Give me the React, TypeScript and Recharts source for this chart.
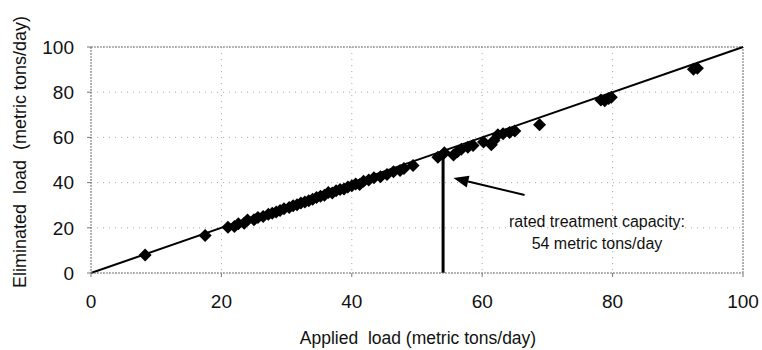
import {
  ReferenceLine,
  CartesianGrid,
  Scatter,
  ScatterChart,
  XAxis,
  YAxis,
} from 'recharts';

// applied vs eliminated load, metric tons/day
const applied = [
  8.3, 17.5, 21.0, 22.0, 22.6, 23.5, 24.0, 25.0, 25.6, 26.4, 27.2, 27.8, 28.4, 29.0,
  29.6, 30.4, 31.0, 31.6, 32.2, 32.8, 33.4, 34.0, 34.6, 35.2, 35.8, 36.4, 37.0, 37.6,
  38.2, 38.8, 39.4, 40.0, 40.6, 41.2, 41.8, 42.6, 43.4, 44.4, 45.4, 46.4, 47.4, 48.0,
  49.4, 53.2, 54.2, 55.6, 56.2, 56.8, 57.8, 58.6, 60.2, 61.4, 61.8, 62.4, 63.2, 64.2,
  65.0, 68.8, 78.2, 78.8, 79.4, 79.8, 92.4, 93.0,
];
const eliminated = [
  8.0, 16.6, 20.2, 20.6, 21.8, 22.0, 23.4, 23.6, 24.6, 25.0, 26.0, 26.4, 27.0, 27.6,
  28.4, 29.0, 29.8, 30.2, 31.0, 31.4, 32.0, 32.6, 33.4, 34.0, 34.4, 35.6, 35.4, 36.4,
  37.0, 37.2, 38.0, 38.6, 39.4, 39.2, 40.6, 41.2, 42.2, 42.6, 43.6, 44.8, 45.4, 46.2,
  47.6, 51.2, 53.2, 52.2, 53.6, 54.8, 55.6, 56.4, 58.0, 56.8, 58.6, 61.2, 61.6, 62.2,
  62.8, 65.6, 76.6, 76.2, 77.2, 77.8, 90.2, 90.6,
];
const ticks = [0, 20, 40, 60, 80, 100];

const ratedCapacity = 54;
// arrow from the note to the capacity line
const arrowTail = { x: 66.5, y: 34.5 };
const arrowTip = { x: 55.6, y: 42 };

const points = applied.map((x, i) => ({ x, y: eliminated[i] }));

const FONT = '"Liberation Sans", Arial, sans-serif';

document.body.style.margin = '0';

function Diamond(props: any) {
  const { cx, cy } = props;
  const h = 6.5;
  return (
    <polygon
      points={`${cx},${cy - h} ${cx + h},${cy} ${cx},${cy + h} ${cx - h},${cy}`}
      fill="#000"
    />
  );
}

function Arrow(props: any) {
  const { x1, y1, x2, y2 } = props;
  const ang = Math.atan2(y2 - y1, x2 - x1);
  const len = 15;
  const w = 6;
  const bx = x2 - len * Math.cos(ang);
  const by = y2 - len * Math.sin(ang);
  const px = -Math.sin(ang) * w;
  const py = Math.cos(ang) * w;
  return (
    <g>
      <line x1={x1} y1={y1} x2={bx} y2={by} stroke="#000" strokeWidth={2} />
      <polygon points={`${x2},${y2} ${bx + px},${by + py} ${bx - px},${by - py}`} fill="#000" />
    </g>
  );
}

const tickStyle = { fontSize: 19, fill: '#111', fontFamily: FONT };

export default function App() {
  return (
    <div style={{ position: 'relative', width: 762, height: 350, background: '#fff' }}>
      <ScatterChart
        width={762}
        height={350}
        margin={{ top: 47, right: 19, bottom: 27, left: 31 }}
      >
        <CartesianGrid stroke="#aaa" strokeDasharray="1 5" />
        <XAxis
          type="number"
          dataKey="x"
          domain={[0, 100]}
          ticks={ticks}
          height={50}
          tick={tickStyle}
          tickSize={4}
          tickMargin={18}
          stroke="#777"
          axisLine={{ stroke: '#777', strokeDasharray: '2 1' }}
          label={{
            content: () => (
              <text
                x={418}
                y={344}
                textAnchor="middle"
                style={{ whiteSpace: 'pre' }}
                fontSize={17.5}
                fontFamily={FONT}
                fill="#111"
              >
                {'Applied  load (metric tons/day)'}
              </text>
            ),
          }}
        />
        <YAxis
          type="number"
          dataKey="y"
          domain={[0, 100]}
          ticks={ticks}
          width={60}
          tick={tickStyle}
          tickSize={4}
          tickMargin={13}
          stroke="#777"
          axisLine={{ stroke: '#777', strokeDasharray: '2 1' }}
          label={{
            content: () => (
              <text
                x={26}
                y={152}
                transform="rotate(-90 26 152)"
                textAnchor="middle"
                style={{ whiteSpace: 'pre' }}
                fontSize={18}
                fontFamily={FONT}
                fill="#111"
              >
                {'Eliminated  load  (metric tons/day)'}
              </text>
            ),
          }}
        />
        <ReferenceLine y={100} stroke="#777" strokeDasharray="2 1" />
        <ReferenceLine x={100} stroke="#777" strokeDasharray="2 1" />
        <ReferenceLine
          segment={[
            { x: 0, y: 0 },
            { x: 100, y: 100 },
          ]}
          stroke="#000"
          strokeWidth={2}
        />
        <ReferenceLine
          segment={[
            { x: ratedCapacity, y: 0 },
            { x: ratedCapacity, y: ratedCapacity },
          ]}
          stroke="#000"
          strokeWidth={3}
        />
        <ReferenceLine
          segment={[arrowTail, arrowTip]}
          shape={(p: any) => <Arrow {...p} />}
        />
        <Scatter data={points} shape={(p: any) => <Diamond {...p} />} isAnimationActive={false} />
      </ScatterChart>
      <div
        style={{
          position: 'absolute',
          left: 497,
          top: 211,
          width: 200,
          textAlign: 'center',
          fontFamily: FONT,
          fontSize: 16,
          lineHeight: '22px',
          color: '#111',
        }}
      >
        rated treatment capacity:
        <br />
        54 metric tons/day
      </div>
    </div>
  );
}
